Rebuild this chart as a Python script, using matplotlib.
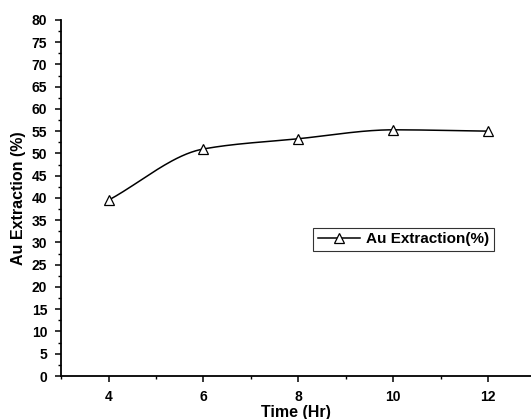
import numpy as np
import matplotlib
matplotlib.use('Agg')
import matplotlib.pyplot as plt
from matplotlib.ticker import MultipleLocator

time_hr = [4, 6, 8, 10, 12]
au_extraction = [39.5, 51.0, 53.3, 55.3, 55.0]
x_ticks = [4, 6, 8, 10, 12]


def smooth(x, y, n=40):
    # monotone cubic (pchip-like) curve between the points, for drawing only
    x = np.asarray(x, float)
    y = np.asarray(y, float)
    h = np.diff(x)
    d = np.diff(y) / h
    m = np.zeros_like(y)
    for i in range(1, len(y) - 1):
        if d[i - 1] * d[i] > 0:
            w1 = 2 * h[i] + h[i - 1]
            w2 = h[i] + 2 * h[i - 1]
            m[i] = (w1 + w2) / (w1 / d[i - 1] + w2 / d[i])
    m[0] = d[0]
    m[-1] = d[-1]
    xs, ys = [], []
    for i in range(len(x) - 1):
        t = np.linspace(0, 1, n)
        h00 = 2 * t**3 - 3 * t**2 + 1
        h10 = t**3 - 2 * t**2 + t
        h01 = -2 * t**3 + 3 * t**2
        h11 = t**3 - t**2
        xs.append(x[i] + t * h[i])
        ys.append(h00 * y[i] + h10 * h[i] * m[i] + h01 * y[i + 1] + h11 * h[i] * m[i + 1])
    return np.concatenate(xs), np.concatenate(ys)


plt.rcParams['font.family'] = ['Liberation Sans', 'DejaVu Sans']
plt.rcParams['font.weight'] = 'bold'

fig = plt.figure(figsize=(5.31, 4.19), dpi=100)
ax = fig.add_axes([0.115, 0.1026, 0.885, 0.85])

xs, ys = smooth(time_hr, au_extraction)
ax.plot(xs, ys, color='black', lw=1.1, zorder=2)
ax.plot(time_hr, au_extraction, linestyle='none', marker='^', ms=7.5,
        mfc='white', mec='black', mew=0.9, zorder=3)
# legend proxy
ax.plot([], [], color='black', lw=1.1, marker='^', ms=7, mfc='white',
        mec='black', mew=0.9, label='Au Extraction(%)')

ax.set_xlim(3, 12.9)
ax.set_ylim(0, 80)
ax.set_xticks(x_ticks)
ax.xaxis.set_minor_locator(MultipleLocator(1))
ax.yaxis.set_major_locator(MultipleLocator(5))
ax.yaxis.set_minor_locator(MultipleLocator(2.5))
ax.spines['top'].set_visible(False)
ax.spines['right'].set_visible(False)
for s in ['left', 'bottom']:
    ax.spines[s].set_linewidth(1.3)
ax.tick_params(which='major', direction='out', length=4, width=1.1, labelsize=10)
ax.tick_params(which='minor', direction='out', length=2.5, width=1.0)
for lab in ax.get_xticklabels() + ax.get_yticklabels():
    lab.set_fontweight('bold')
ax.xaxis.set_tick_params(pad=6)
ax.yaxis.set_tick_params(pad=6)

ax.set_xlabel('Time (Hr)', fontsize=11.5, fontweight='bold', labelpad=1)
ax.set_ylabel('Au Extraction (%)', fontsize=11.5, fontweight='bold', labelpad=4)

leg = ax.legend(loc='upper left', bbox_to_anchor=(0.536, 0.416), fontsize=11,
                frameon=True, fancybox=False, handlelength=2.8,
                borderpad=0.3, handletextpad=0.4, borderaxespad=0)
leg.get_frame().set_edgecolor('black')
leg.get_frame().set_linewidth(0.8)
for t in leg.get_texts():
    t.set_fontweight('bold')

fig.savefig('out.png', dpi=100)
